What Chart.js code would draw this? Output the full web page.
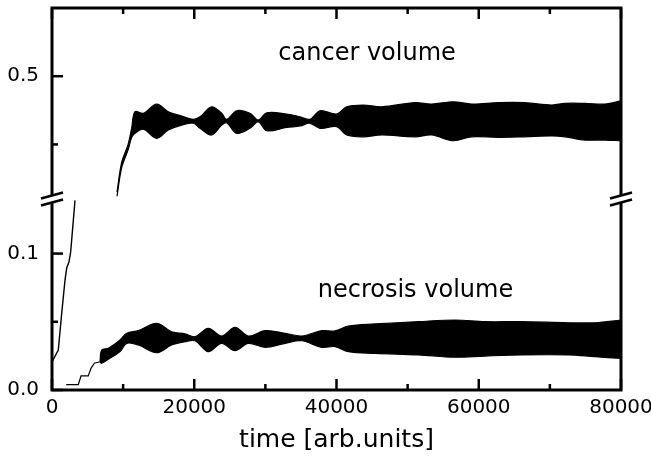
<!DOCTYPE html>
<html>
<head>
<meta charset="utf-8">
<script src="https://cdn.jsdelivr.net/npm/chart.js@4/dist/chart.umd.min.js"></script>
<style>
  html, body { margin: 0; padding: 0; background: #fff; }
</style>
</head>
<body>
<canvas id="chart" width="651" height="466"></canvas>
<script>
// cancer volume, early part (lower panel)
const cancerLowT = [0, 886, 1364, 1828, 2067, 2390, 2630, 3234];
const cancerLowV = [0.0205, 0.0293, 0.0562, 0.0806, 0.0894, 0.094, 0.1014, 0.139];

// cancer volume, oscillating band (upper panel): envelope top / bottom
const cancerT = [9140, 9800, 10700, 11200, 11670, 12840, 14720, 16350, 18240, 19870,
  20810, 22450, 23860, 24560, 25970, 27840, 29010, 30190, 33000, 34870,
  36270, 37680, 40030, 41430, 43770, 46360, 51040, 53390, 56420, 59010,
  62750, 66500, 70260, 72130, 74940, 77750, 80000];
const cancerTop = [0.415, 0.437, 0.450, 0.462, 0.4740, 0.4728, 0.4796, 0.4740, 0.4708, 0.4684,
  0.4703, 0.4776, 0.4728, 0.4684, 0.4747, 0.4728, 0.4679, 0.4732, 0.4723, 0.4703,
  0.4684, 0.4747, 0.4723, 0.4776, 0.4789, 0.4776, 0.4806, 0.4796, 0.4813, 0.4796,
  0.4806, 0.4806, 0.4789, 0.4801, 0.4801, 0.4796, 0.4820];
const cancerBottom = [0.412, 0.433, 0.446, 0.455, 0.4581, 0.4611, 0.4545, 0.4606, 0.4642, 0.4655,
  0.4618, 0.4569, 0.4642, 0.4659, 0.4581, 0.4618, 0.4666, 0.4600, 0.4625, 0.4635,
  0.4655, 0.4618, 0.4630, 0.4569, 0.4556, 0.4569, 0.4556, 0.4569, 0.4527, 0.4556,
  0.4552, 0.4556, 0.4562, 0.4556, 0.4532, 0.4532, 0.4527];

// necrosis volume: staircase start
const necrosisStepT = [2000, 3700, 4080, 5100, 5480, 5950, 6750];
const necrosisStepV = [0.004, 0.004, 0.0103, 0.0103, 0.0159, 0.0196, 0.0207];

// necrosis volume: oscillating band, envelope top / bottom
const necrosisT = [6750, 6990, 7920, 9560,
  10500, 12130, 14720, 16830, 18700, 20110, 21980, 23860, 25730, 27600,
  29950, 32760, 35110, 37920, 39790, 41660, 45410, 51500, 56660, 60880,
  66040, 72590, 76350, 80000];
const necrosisTop = [0.0210, 0.0293, 0.0306, 0.0367,
  0.0416, 0.0435, 0.0489, 0.0427, 0.0411, 0.0391, 0.0452, 0.0396, 0.0460, 0.0396,
  0.0435, 0.0416, 0.0396, 0.0435, 0.0433, 0.0469, 0.0484, 0.0501, 0.0513, 0.0501,
  0.0501, 0.0493, 0.0493, 0.0513];
const necrosisBottom = [0.0205, 0.0196, 0.0225, 0.0281,
  0.0342, 0.0330, 0.0273, 0.0330, 0.0354, 0.0361, 0.0281, 0.0342, 0.0288, 0.0342,
  0.0313, 0.0342, 0.0361, 0.0313, 0.0318, 0.0281, 0.0269, 0.0257, 0.0240, 0.0249,
  0.0257, 0.0257, 0.0244, 0.0232];

// axes
const xTickValues = [0, 10000, 20000, 30000, 40000, 50000, 60000, 70000, 80000];
const xTickLabels = ['0', '', '20000', '', '40000', '', '60000', '', '80000'];
const lowTickValues = [0, 0.05, 0.1];
const lowTickLabels = ['0.0', '', '0.1'];
const highTickValues = [0.45, 0.5];
const highTickLabels = ['', '0.5'];
const lowRange = [0, 0.14];
const highRange = [0.41, 0.55];

const FONT = '"DejaVu Sans", sans-serif';

const pts = (t, v) => t.map((x, i) => ({ x, y: v[i] }));
const lineStyle = { borderColor: '#000', borderWidth: 1.2, pointRadius: 0, tension: 0 };
const bandStyle = { ...lineStyle, tension: 0.35 };

function setTicks(values) {
  return (s) => { s.ticks = values.map(v => ({ value: v })); };
}

const frame = {
  id: 'frame',
  afterDatasetsDraw(chart) {
    const { ctx, chartArea: a, scales } = chart;
    const x = scales.x, lo = scales.yLow, hi = scales.yHigh;
    ctx.save();
    ctx.strokeStyle = '#000';
    ctx.lineWidth = 2.5;
    xTickValues.forEach((v, i) => {
      const px = x.getPixelForValue(v);
      const len = xTickLabels[i] ? 11 : 6;
      ctx.beginPath();
      ctx.moveTo(px, a.bottom); ctx.lineTo(px, a.bottom - len);
      ctx.moveTo(px, a.top); ctx.lineTo(px, a.top + len);
      ctx.stroke();
    });
    [[lo, lowTickValues, lowTickLabels], [hi, highTickValues, highTickLabels]].forEach(([s, vals, labs]) => {
      vals.forEach((v, i) => {
        const py = s.getPixelForValue(v);
        const len = labs[i] ? 11 : 6;
        ctx.beginPath();
        ctx.moveTo(a.left, py); ctx.lineTo(a.left + len, py);
        ctx.stroke();
      });
    });
    ctx.lineWidth = 3;
    ctx.strokeRect(a.left, a.top, a.right - a.left, a.bottom - a.top);

    // axis break marks
    const yb = lo.top;
    [a.left, a.right].forEach(xb => {
      ctx.fillStyle = '#fff';
      ctx.beginPath();
      ctx.moveTo(xb - 3, yb - 2.5); ctx.lineTo(xb + 3, yb - 4.5);
      ctx.lineTo(xb + 3, yb + 2.5); ctx.lineTo(xb - 3, yb + 4.5);
      ctx.closePath(); ctx.fill();
      ctx.lineWidth = 2.5;
      ctx.beginPath();
      ctx.moveTo(xb - 11, yb - 0.5); ctx.lineTo(xb + 11, yb - 6.5);
      ctx.moveTo(xb - 11, yb + 6.5); ctx.lineTo(xb + 11, yb + 0.5);
      ctx.stroke();
    });

    // series labels
    ctx.fillStyle = '#000';
    ctx.font = '24px ' + FONT;
    ctx.textAlign = 'center';
    ctx.textBaseline = 'alphabetic';
    ctx.fillText('cancer volume', x.getPixelForValue(44300), hi.getPixelForValue(0.5185) + 9);
    ctx.fillText('necrosis volume', x.getPixelForValue(51100), lo.getPixelForValue(0.0733) + 7);
    ctx.restore();
  }
};

const noGrid = { display: false, drawTicks: false, tickLength: 0 };

new Chart(document.getElementById('chart'), {
  type: 'line',
  data: {
    datasets: [
      { ...lineStyle, data: pts(cancerLowT, cancerLowV), yAxisID: 'yLow', borderWidth: 1.4 },
      { ...bandStyle, data: pts(cancerT, cancerTop), yAxisID: 'yHigh' },
      { ...bandStyle, data: pts(cancerT, cancerBottom), yAxisID: 'yHigh', fill: '-1', backgroundColor: '#000' },
      { ...lineStyle, data: pts(necrosisStepT, necrosisStepV), yAxisID: 'yLow' },
      { ...bandStyle, data: pts(necrosisT, necrosisTop), yAxisID: 'yLow' },
      { ...bandStyle, data: pts(necrosisT, necrosisBottom), yAxisID: 'yLow', fill: '-1', backgroundColor: '#000' }
    ]
  },
  options: {
    responsive: false,
    animation: false,
    layout: { padding: { left: 0, right: 30, top: 8, bottom: 0 } },
    plugins: { legend: { display: false }, tooltip: { enabled: false } },
    scales: {
      x: {
        type: 'linear', min: 0, max: 80000,
        grid: noGrid, border: { display: false },
        afterBuildTicks: setTicks(xTickValues),
        afterFit: (s) => { s.height = 76; s.paddingLeft = 0; s.paddingRight = 0; },
        ticks: {
          autoSkip: false, maxRotation: 0, padding: 6, color: '#000',
          font: { family: FONT, size: 20 },
          callback: (v, i) => xTickLabels[i]
        },
        title: {
          display: true, text: 'time [arb.units]', color: '#000',
          font: { family: FONT, size: 25 }, padding: { top: 0, bottom: 11 }
        }
      },
      yLow: {
        type: 'linear', position: 'left', stack: 'v', stackWeight: 1,
        min: lowRange[0], max: lowRange[1],
        grid: noGrid, border: { display: false },
        afterBuildTicks: setTicks(lowTickValues),
        afterFit: (s) => { s.width = 52; s.paddingTop = 0; s.paddingBottom = 0; },
        ticks: {
          autoSkip: false, padding: 13, color: '#000',
          font: { family: FONT, size: 20 },
          callback: (v, i) => lowTickLabels[i]
        }
      },
      yHigh: {
        type: 'linear', position: 'left', stack: 'v', stackWeight: 1,
        min: highRange[0], max: highRange[1],
        grid: noGrid, border: { display: false },
        afterBuildTicks: setTicks(highTickValues),
        afterFit: (s) => { s.width = 52; s.paddingTop = 0; s.paddingBottom = 0; },
        ticks: {
          autoSkip: false, padding: 13, color: '#000',
          font: { family: FONT, size: 20 },
          callback: (v, i) => highTickLabels[i]
        }
      }
    }
  },
  plugins: [frame]
});
</script>
</body>
</html>
